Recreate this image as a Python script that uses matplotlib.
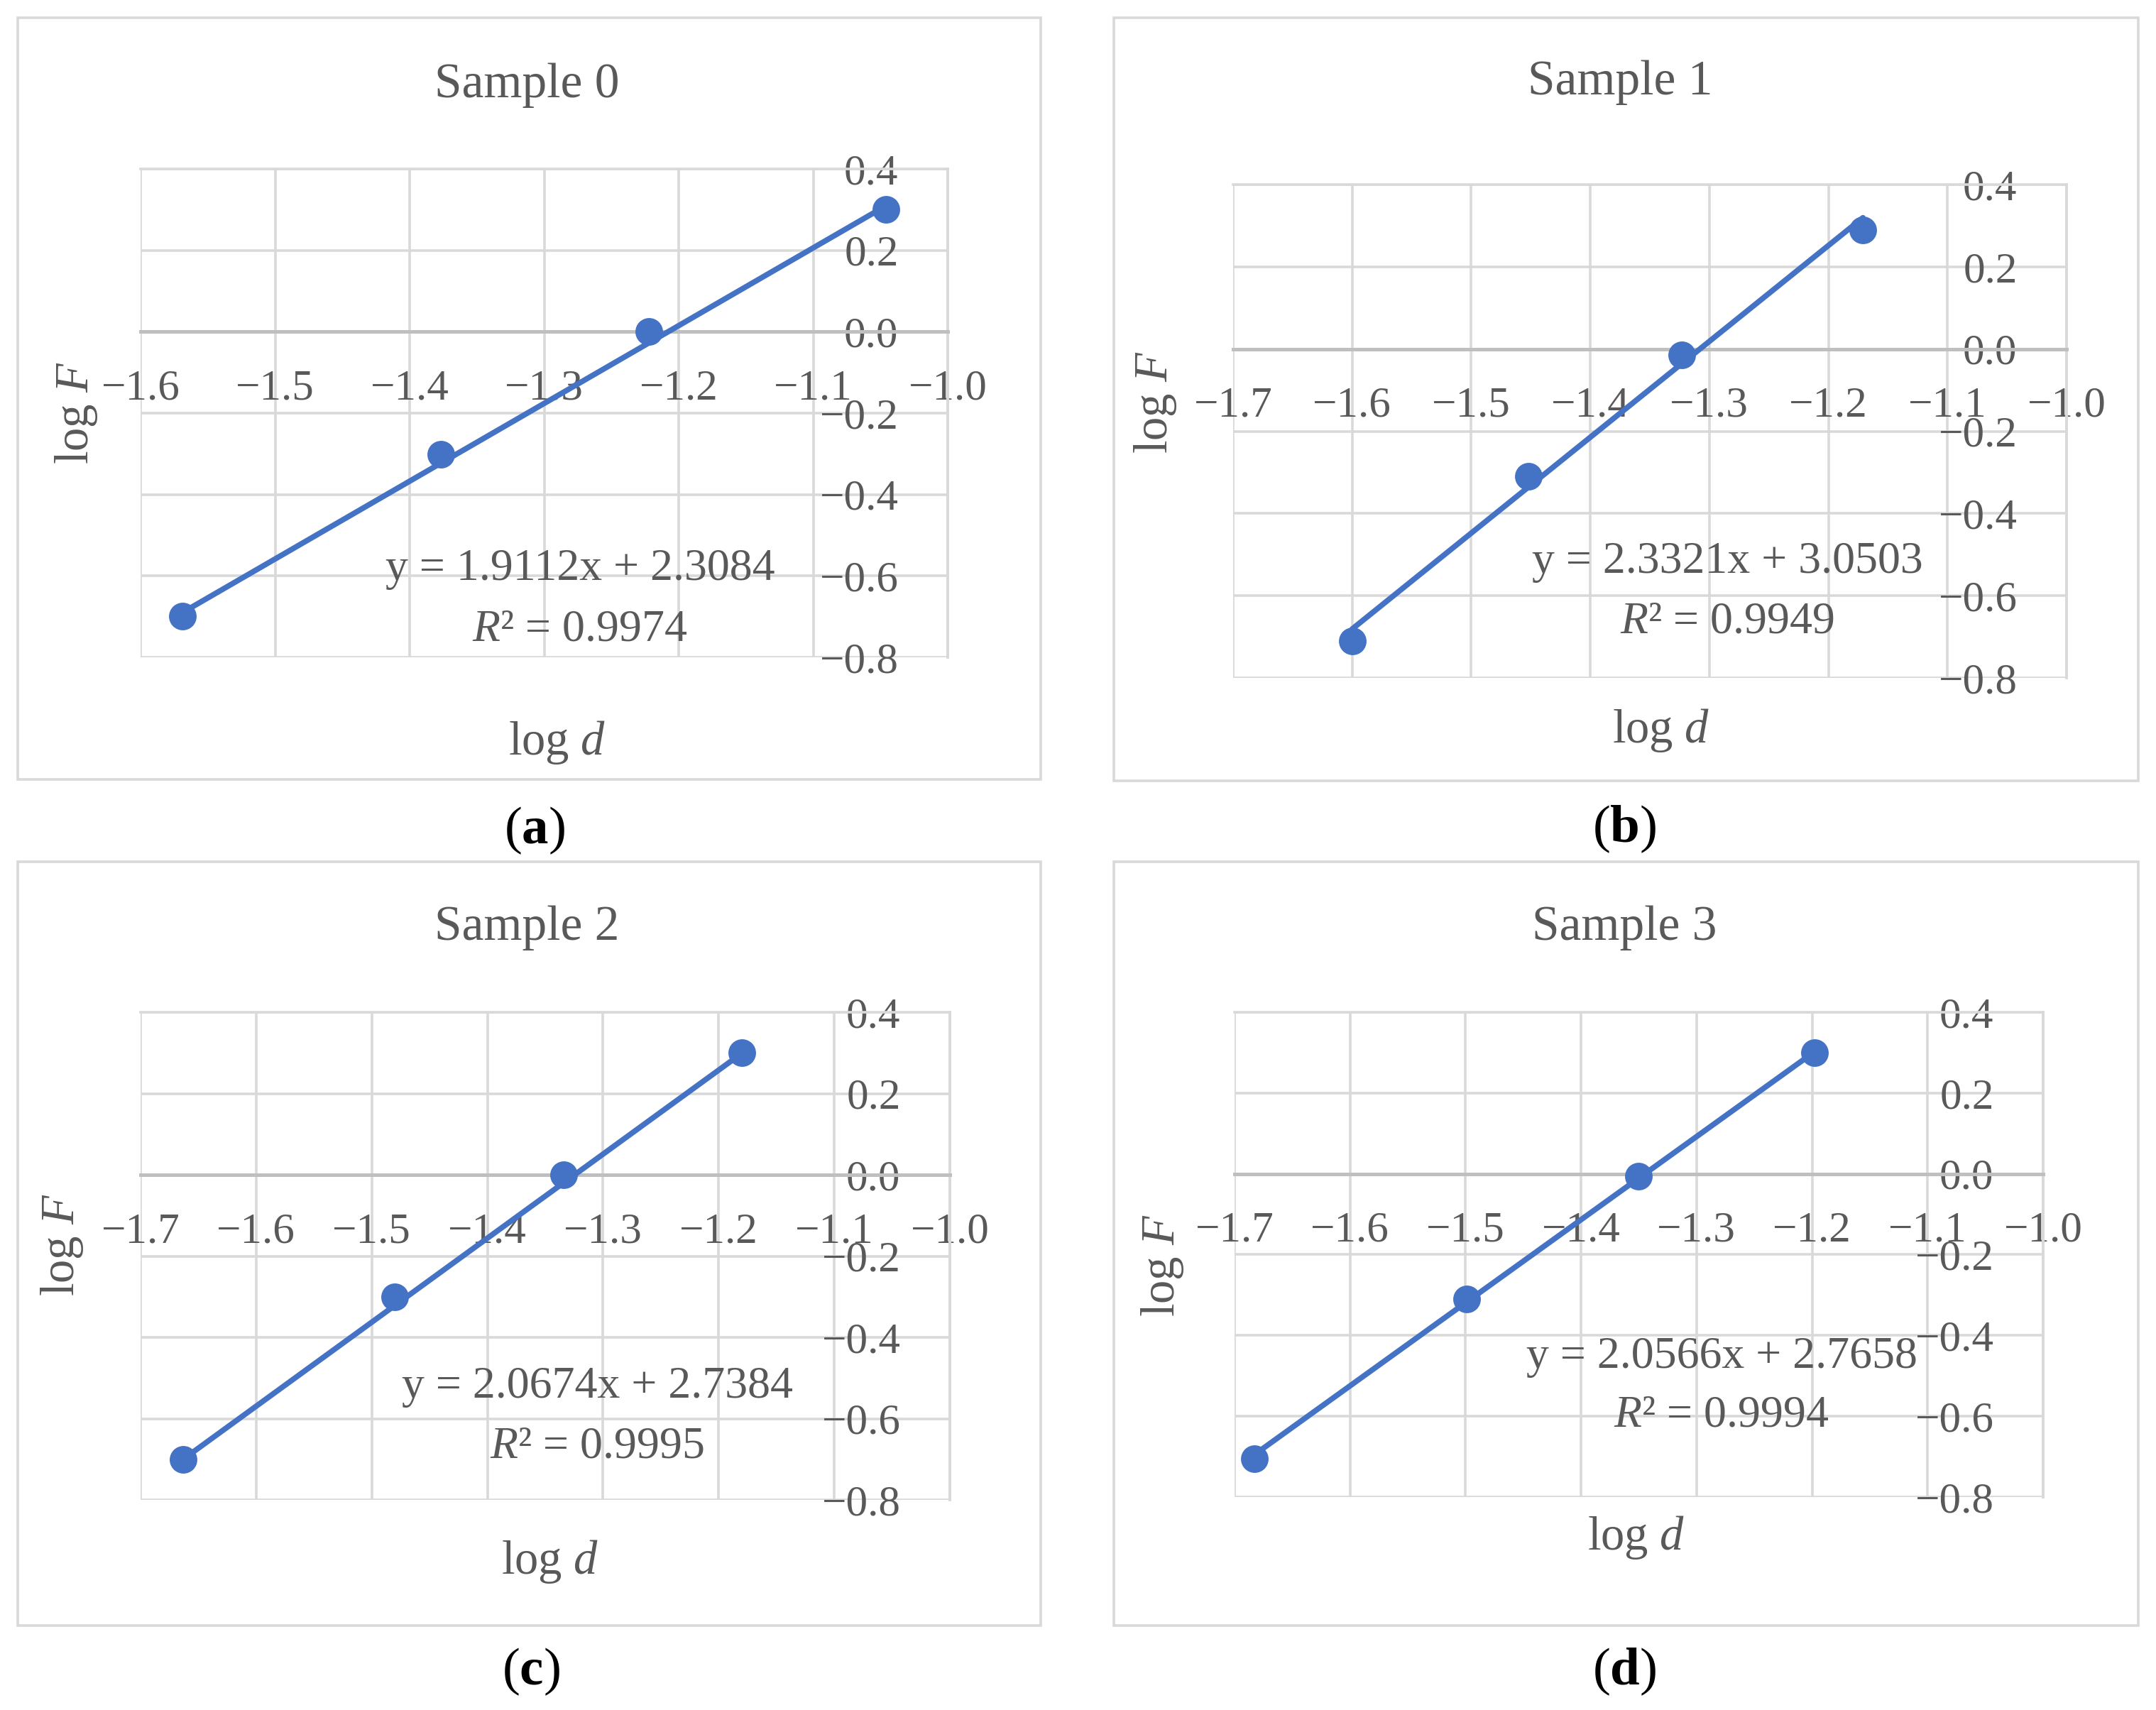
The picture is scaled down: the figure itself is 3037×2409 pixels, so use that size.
import matplotlib
matplotlib.use("Agg")
import matplotlib.pyplot as plt
import numpy as np
from matplotlib.patches import Rectangle

# data
titles = ["Sample 0", "Sample 1", "Sample 2", "Sample 3"]
panel_tags = ["a", "b", "c", "d"]
log_d = [
    [-1.569, -1.377, -1.222, -1.046],
    [-1.600, -1.452, -1.323, -1.171],
    [-1.663, -1.480, -1.334, -1.180],
    [-1.683, -1.499, -1.350, -1.198],
]
log_F = [
    [-0.699, -0.301, 0.000, 0.301],
    [-0.710, -0.310, -0.015, 0.290],
    [-0.700, -0.300, 0.000, 0.300],
    [-0.705, -0.310, -0.005, 0.300],
]
slopes = [1.9112, 2.3321, 2.0674, 2.0566]
intercepts = [2.3084, 3.0503, 2.7384, 2.7658]
r2 = [0.9974, 0.9949, 0.9995, 0.9994]
x_mins = [-1.6, -1.7, -1.7, -1.7]
y_ticks = [-0.8, -0.6, -0.4, -0.2, 0.0, 0.2, 0.4]

# layout in pixels of the 3037x2409 picture
W, H = 3037, 2409
frames = [(25, 25, 1466, 1098), (1569, 25, 3012, 1100),
          (25, 1214, 1466, 2290), (1569, 1214, 3012, 2290)]
plot_boxes = [(198, 238, 1335, 926), (1737, 260, 2911, 955),
              (198, 1426, 1338, 2113), (1739, 1426, 2878, 2109)]
title_pos = [(742, 120), (2282, 116), (742, 1307), (2288, 1307)]
xlabel_pos = [(785, 1046), (2340, 1029), (775, 2200), (2305, 2166)]
ylabel_pos = [(107, 581), (1627, 566), (87, 1753), (1637, 1782)]
tag_pos = [(753, 1170), (2288, 1168), (748, 2355), (2288, 2355)]
eq_pos = [(817, 802), (2433, 792), (841, 1954), (2425, 1912)]
r2_pos = [(817, 887), (2433, 877), (841, 2038), (2425, 1995)]

BLUE = "#4472C4"
TXT = "#595959"
GRID = "#d9d9d9"
FONT = "Liberation Serif"

plt.rcParams["font.family"] = [FONT, "DejaVu Serif"]
plt.rcParams["mathtext.fontset"] = "custom"
plt.rcParams["mathtext.rm"] = FONT
plt.rcParams["mathtext.it"] = FONT + ":italic"
plt.rcParams["mathtext.bf"] = FONT + ":bold"

DPI = 200
fig = plt.figure(figsize=(W / DPI, H / DPI), dpi=DPI)


def fx(px):
    return px / W


def fy(py):
    return 1 - py / H


for i in range(4):
    # chart border
    x0, y0, x1, y1 = frames[i]
    fig.patches.append(Rectangle((fx(x0), fy(y1)), fx(x1 - x0), (y1 - y0) / H,
                                 transform=fig.transFigure, fill=False,
                                 edgecolor=GRID, linewidth=1.3))

    px0, py0, px1, py1 = plot_boxes[i]
    ax = fig.add_axes([fx(px0), fy(py1), fx(px1 - px0), (py1 - py0) / H])
    ax.set_xlim(x_mins[i], -1.0)
    ax.set_ylim(-0.8, 0.4)
    xt = np.round(np.arange(x_mins[i], -0.999, 0.1), 1)
    ax.set_xticks(xt)
    ax.set_yticks(y_ticks)
    ax.set_xticklabels([f"{v:.1f}".replace("-", "\u2212") for v in xt])
    ax.set_yticklabels([f"{v:.1f}".replace("-", "\u2212") for v in y_ticks])
    ax.grid(True, color=GRID, linewidth=1.3)
    ax.set_axisbelow(True)

    # Excel style: vertical axis at x = -1.0, horizontal axis at y = 0
    ax.spines["left"].set_position(("data", -1.0))
    ax.spines["bottom"].set_position(("data", 0.0))
    ax.spines["left"].set_color(GRID)
    ax.spines["left"].set_linewidth(1.3)
    ax.spines["bottom"].set_color("#bfbfbf")
    ax.spines["bottom"].set_linewidth(1.8)
    for s in ["top", "right"]:
        ax.spines[s].set_color(GRID)
        ax.spines[s].set_linewidth(1.3)
    ax.tick_params(axis="y", length=0, pad=25, labelsize=22, labelcolor=TXT)
    ax.tick_params(axis="x", length=0, pad=19, labelsize=22, labelcolor=TXT)
    for lab in ax.get_xticklabels() + ax.get_yticklabels():
        lab.set_clip_on(False)

    # trend line over the data range, then markers
    xs = np.array(log_d[i])
    line_x = np.array([xs.min(), xs.max()])
    ax.plot(line_x, slopes[i] * line_x + intercepts[i], color=BLUE,
            linewidth=2.8, solid_capstyle="round", zorder=3, clip_on=False)
    ax.plot(log_d[i], log_F[i], linestyle="none", marker="o", markersize=13,
            color=BLUE, zorder=4, clip_on=False)

    fig.text(fx(eq_pos[i][0]), fy(eq_pos[i][1]),
             f"y = {slopes[i]:.4f}x + {intercepts[i]:.4f}",
             ha="center", va="center", fontsize=23, color=TXT)
    fig.text(fx(r2_pos[i][0]), fy(r2_pos[i][1]),
             f"$R$\u00b2 = {r2[i]:.4f}",
             ha="center", va="center", fontsize=23, color=TXT)

    fig.text(fx(title_pos[i][0]), fy(title_pos[i][1]), titles[i],
             ha="center", va="center", fontsize=25, color=TXT)
    fig.text(fx(xlabel_pos[i][0]), fy(xlabel_pos[i][1]), "log $d$",
             ha="center", va="center", fontsize=24, color=TXT)
    fig.text(fx(ylabel_pos[i][0]), fy(ylabel_pos[i][1]), "log $F$",
             ha="center", va="center", fontsize=24, color=TXT, rotation=90)
    fig.text(fx(tag_pos[i][0]), fy(tag_pos[i][1]),
             "($\\mathbf{" + panel_tags[i] + "}$)",
             ha="center", va="center", fontsize=27, color="black")

fig.savefig("out.png", dpi=DPI, facecolor="white")
